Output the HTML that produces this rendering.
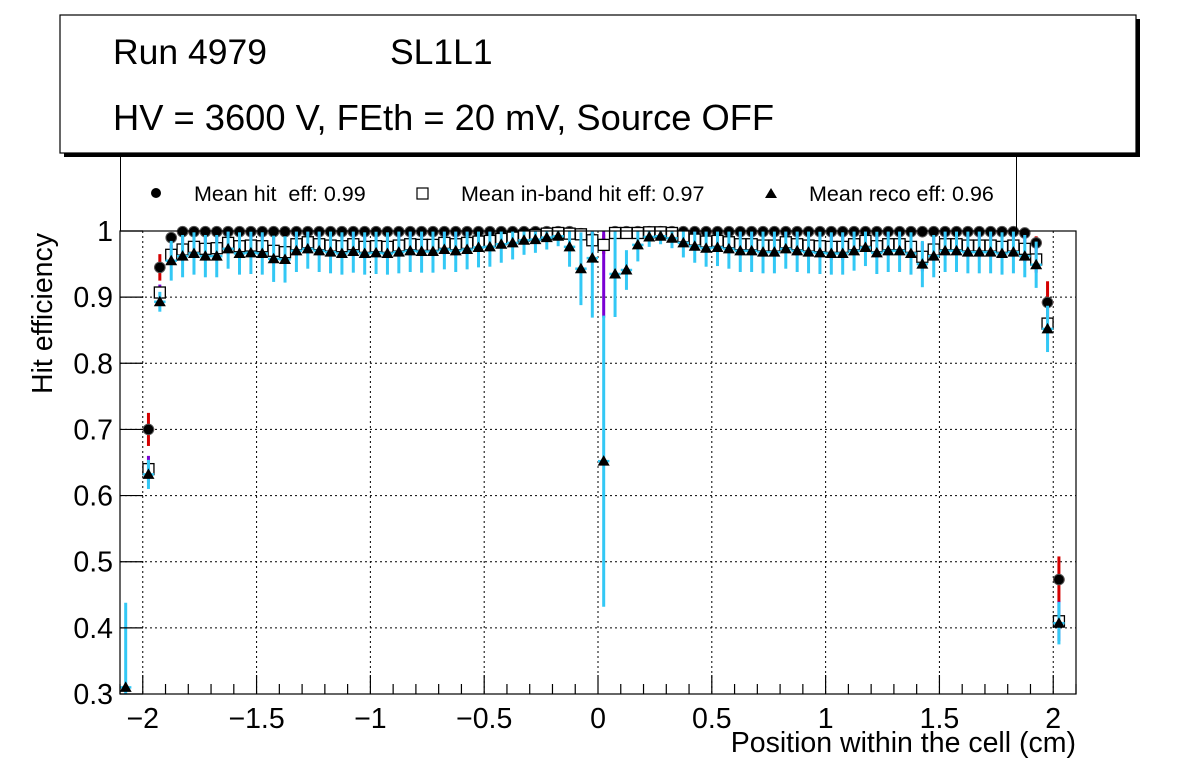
<!DOCTYPE html>
<html><head><meta charset="utf-8"><style>
body{margin:0;background:#fff;}
svg{display:block;font-family:"Liberation Sans",Arial,sans-serif;}
</style></head><body>
<svg id="c" width="1196" height="772" viewBox="0 0 1196 772">
<rect width="1196" height="772" fill="#fff"/>
<g>
<rect x="64" y="19" width="1076" height="138" fill="#000"/>
<rect x="60" y="15" width="1076" height="138" fill="#fff" stroke="#000" stroke-width="1.2"/>
<text x="113" y="64" font-size="35.5">Run 4979</text>
<text x="390" y="64" font-size="35.5">SL1L1</text>
<text x="113" y="130" font-size="36.3">HV = 3600 V, FEth = 20 mV, Source OFF</text>
</g>
<g id="grid"></g>
<g id="marks"></g>
<g id="axes"></g>
<g>
<path d="M120.5 157 V231 M1016.5 157 V231" stroke="#000" stroke-width="1"/>
<g><circle cx="156" cy="193" r="5" fill="#000"/><text x="194" y="201" font-size="21.5" xml:space="preserve">Mean hit  eff: 0.99</text></g>
<g><rect x="417" y="188" width="11" height="11" fill="#fff" stroke="#000" stroke-width="1.2"/><text x="461" y="201" font-size="21.5">Mean in-band hit eff: 0.97</text></g>
<g><path d="M771 188 L777 198 L765 198 Z" fill="#000"/><text x="809" y="201" font-size="21.5">Mean reco eff: 0.96</text></g>
</g>
<text x="1076" y="752" font-size="28.5" text-anchor="end">Position within the cell (cm)</text>
<text transform="translate(52,394) rotate(-90)" font-size="28.5">Hit efficiency</text>
</svg>
<script>
const binCenters=[-2.075,-2.025,-1.975,-1.925,-1.875,-1.825,-1.775,-1.725,-1.675,-1.625,-1.575,-1.525,-1.475,-1.425,-1.375,-1.325,-1.275,-1.225,-1.175,-1.125,-1.075,-1.025,-0.975,-0.925,-0.875,-0.825,-0.775,-0.725,-0.675,-0.625,-0.575,-0.525,-0.475,-0.425,-0.375,-0.325,-0.275,-0.225,-0.175,-0.125,-0.075,-0.025,0.025,0.075,0.125,0.175,0.225,0.275,0.325,0.375,0.425,0.475,0.525,0.575,0.625,0.675,0.725,0.775,0.825,0.875,0.925,0.975,1.025,1.075,1.125,1.175,1.225,1.275,1.325,1.375,1.425,1.475,1.525,1.575,1.625,1.675,1.725,1.775,1.825,1.875,1.925,1.975,2.025,2.075];
const hitEff=[null,null,0.700,0.945,0.990,0.999,0.999,0.999,0.999,0.999,0.999,0.999,0.999,0.999,0.999,0.999,0.999,0.999,0.999,0.999,0.999,0.999,0.999,0.999,0.999,0.999,0.999,0.999,0.999,0.999,0.999,0.999,0.999,0.999,0.999,0.999,0.999,0.999,0.999,0.999,0.996,0.988,0.980,0.999,0.999,0.999,0.999,0.999,0.999,0.999,0.999,0.999,0.999,0.999,0.999,0.999,0.999,0.999,0.999,0.999,0.999,0.999,0.999,0.999,0.999,0.999,0.999,0.999,0.999,0.999,0.999,0.999,0.999,0.999,0.999,0.999,0.999,0.999,0.999,0.997,0.982,0.892,0.473,null];
const hitErr=[0,0,0.025,0.02,0.006,0.003,0.003,0.003,0.003,0.003,0.003,0.003,0.003,0.003,0.003,0.003,0.003,0.003,0.003,0.003,0.003,0.003,0.003,0.003,0.003,0.003,0.003,0.003,0.003,0.003,0.003,0.003,0.003,0.003,0.003,0.003,0.003,0.003,0.003,0.003,0.006,0.01,0.015,0.003,0.003,0.003,0.003,0.003,0.003,0.003,0.003,0.003,0.003,0.003,0.003,0.003,0.003,0.003,0.003,0.003,0.003,0.003,0.003,0.003,0.003,0.003,0.003,0.003,0.003,0.003,0.003,0.003,0.003,0.003,0.003,0.003,0.003,0.003,0.003,0.005,0.01,0.032,0.035,0];
const inbandEff=[null,null,0.640,0.907,0.964,0.972,0.976,0.973,0.974,0.982,0.977,0.978,0.977,0.970,0.968,0.980,0.983,0.980,0.978,0.977,0.980,0.976,0.977,0.976,0.978,0.980,0.979,0.979,0.982,0.980,0.982,0.984,0.985,0.988,0.990,0.993,0.994,0.996,0.997,0.996,0.995,0.986,0.979,0.997,0.997,0.997,0.998,0.998,0.997,0.992,0.987,0.984,0.985,0.983,0.980,0.980,0.978,0.978,0.983,0.980,0.978,0.977,0.976,0.976,0.980,0.985,0.977,0.980,0.980,0.976,0.961,0.972,0.980,0.980,0.978,0.978,0.978,0.976,0.978,0.973,0.957,0.860,0.410,null];
const inbandErr=[0,0,0.02,0.012,0.015,0.018,0.018,0.018,0.018,0.018,0.018,0.018,0.018,0.02,0.02,0.018,0.018,0.018,0.018,0.018,0.018,0.018,0.018,0.018,0.018,0.018,0.018,0.018,0.018,0.018,0.018,0.015,0.015,0.012,0.01,0.008,0.006,0.005,0.004,0.005,0.008,0.02,0.11,0.005,0.005,0.004,0.003,0.003,0.004,0.008,0.012,0.015,0.015,0.015,0.018,0.018,0.018,0.018,0.015,0.018,0.018,0.018,0.02,0.02,0.018,0.015,0.018,0.018,0.018,0.02,0.022,0.018,0.018,0.018,0.018,0.018,0.018,0.018,0.018,0.02,0.02,0.025,0.03,0];
const recoEff=[0.310,null,0.632,0.893,0.955,0.962,0.966,0.962,0.962,0.973,0.966,0.967,0.966,0.958,0.957,0.970,0.973,0.970,0.968,0.966,0.969,0.966,0.967,0.966,0.968,0.970,0.969,0.969,0.972,0.970,0.972,0.975,0.976,0.980,0.982,0.986,0.987,0.990,0.992,0.976,0.943,0.959,0.652,0.935,0.941,0.979,0.991,0.992,0.989,0.982,0.977,0.974,0.975,0.973,0.970,0.970,0.968,0.968,0.973,0.970,0.968,0.967,0.966,0.966,0.970,0.975,0.967,0.970,0.970,0.966,0.950,0.962,0.970,0.970,0.968,0.968,0.968,0.966,0.968,0.962,0.949,0.852,0.407,null];
const recoErr=[0.128,0,0.022,0.015,0.03,0.032,0.032,0.032,0.032,0.03,0.032,0.032,0.032,0.035,0.035,0.032,0.03,0.032,0.032,0.032,0.032,0.032,0.032,0.032,0.032,0.032,0.032,0.032,0.03,0.032,0.03,0.03,0.03,0.028,0.025,0.022,0.02,0.018,0.015,0.03,0.055,0.09,0.22,0.065,0.03,0.025,0.015,0.012,0.015,0.022,0.025,0.028,0.028,0.03,0.032,0.032,0.032,0.032,0.03,0.032,0.032,0.032,0.032,0.032,0.03,0.028,0.032,0.032,0.032,0.032,0.035,0.032,0.032,0.032,0.032,0.032,0.032,0.032,0.032,0.032,0.035,0.035,0.032,0];
const xTicks=[-2,-1.5,-1,-0.5,0,0.5,1,1.5,2];
const xTickLabels=["\u22122","\u22121.5","\u22121","\u22120.5","0","0.5","1","1.5","2"];
const yTicks=[0.3,0.4,0.5,0.6,0.7,0.8,0.9,1];
const yTickLabels=["0.3","0.4","0.5","0.6","0.7","0.8","0.9","1"];

const L=120,R=1076,T=231,B=694,X0=-2.1,X1=2.1,Y0=0.3,Y1=1.0,BW=0.05;
const sx=v=>L+(v-X0)/(X1-X0)*(R-L);
const sy=v=>B-(v-Y0)/(Y1-Y0)*(B-T);
const NS="http://www.w3.org/2000/svg";
function mk(tag,attrs,parent){const e=document.createElementNS(NS,tag);for(const k in attrs)e.setAttribute(k,attrs[k]);parent.appendChild(e);return e;}
const grid=document.getElementById('grid'),marks=document.getElementById('marks'),axes=document.getElementById('axes');
xTicks.forEach(t=>{if(t>X0&&t<X1){const g=mk('line',{x1:sx(t),x2:sx(t),y1:T,y2:B,stroke:'#000','stroke-width':1,'stroke-dasharray':'2,3'},grid);

}});
yTicks.forEach(t=>{if(t>Y0&&t<Y1){const g=mk('line',{x1:L,x2:R,y1:sy(t),y2:sy(t),stroke:'#000','stroke-width':1,'stroke-dasharray':'2,3'},grid);

}});
const clip=v=>Math.max(Y0,Math.min(Y1,v));
function series(vals,errs,color,kind,name){
  const g=mk('g',{},marks);
  
  
  vals.forEach((v,i)=>{
    if(v===null)return;
    const x=sx(binCenters[i]),y=sy(v);
    mk('line',{x1:sx(binCenters[i]-BW/2),x2:sx(binCenters[i]+BW/2),y1:y,y2:y,stroke:color,'stroke-width':2.5},g);
    mk('line',{x1:x,x2:x,y1:sy(clip(v-errs[i])),y2:sy(clip(v+errs[i])),stroke:color,'stroke-width':3},g);
    let m;
    if(kind==='circle')m=mk('circle',{cx:x,cy:y,r:5.3,fill:'#000',stroke:'#555','stroke-width':1},g);
    else if(kind==='square')m=mk('rect',{x:x-5.5,y:y-5.5,width:11,height:11,fill:'#fff',stroke:'#000','stroke-width':1.3},g);
    else m=mk('path',{d:`M${x} ${y-6}L${x+6} ${y+4.5}L${x-6} ${y+4.5}Z`,fill:'#000'},g);
    
    
  });
}
series(hitEff,hitErr,'#d40000','circle','hit-eff-series');
series(inbandEff,inbandErr,'#7a00d4','square','inband-eff-series');
series(recoEff,recoErr,'#33c8f5','triangle','reco-eff-series');
mk('rect',{x:L,y:T,width:R-L,height:B-T,fill:'none',stroke:'#000','stroke-width':1.2},axes);
for(let k=-21;k<=21;k++){const t=k/10;const x=sx(t);const major=Math.abs(k%5)===0;
  mk('line',{x1:x,x2:x,y1:B,y2:B-(major?19:10),stroke:'#000','stroke-width':1.2},axes);}
xTicks.forEach((t,i)=>{const e=mk('text',{x:sx(t),y:728,'font-size':28.5,'text-anchor':'middle'},axes);e.textContent=xTickLabels[i];

});
yTicks.forEach((t,i)=>{mk('line',{x1:L,x2:L+23,y1:sy(t),y2:sy(t),stroke:'#000','stroke-width':1.2},axes);
const e=mk('text',{x:113,y:sy(t)+10,'font-size':28.5,'text-anchor':'end'},axes);e.textContent=yTickLabels[i];

});
</script>
</body></html>
